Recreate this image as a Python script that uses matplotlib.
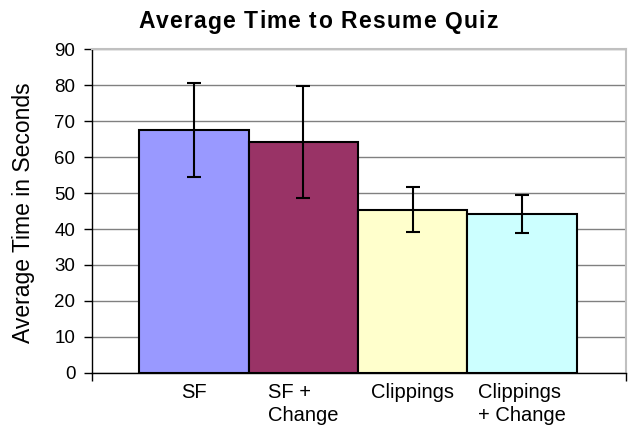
import matplotlib
matplotlib.use("Agg")
import matplotlib.pyplot as plt
from matplotlib.ticker import FixedLocator

categories = ["SF", "SF +\nChange", "Clippings", "Clippings\n+ Change"]
means = [67.6, 64.3, 45.4, 44.3]
errors = [13.0, 15.6, 6.2, 5.3]
colors = ["#9999FF", "#993366", "#FFFFCC", "#CCFFFF"]
yticks = list(range(0, 91, 10))
title = "Average Time to Resume Quiz"

plt.rcParams['font.family'] = ['Liberation Sans', 'DejaVu Sans']

fig = plt.figure(figsize=(6.28, 4.28), dpi=100)
ax = fig.add_axes([92/628, 1 - 372.8/428, (626-92)/628, (372.8-49.3)/428])

x = list(range(len(categories)))
ax.bar(x, means, width=1.0, color=colors, edgecolor="black", linewidth=1.5, zorder=3)
ax.errorbar(x, means, yerr=errors, fmt="none", ecolor="black", elinewidth=1.5,
            capsize=5, capthick=1.5, zorder=4)

xl, xr = -0.931, 3.95
ax.set_xlim(xl, xr)
ax.set_ylim(0, 90)
ax.set_yticks(yticks)
ax.yaxis.grid(True, color="#808080", linewidth=1, zorder=0)
ax.set_axisbelow(True)

ax.set_xticks(x)
ax.set_xticklabels(categories, fontsize=14.5, multialignment="left", linespacing=1.3)
ax.tick_params(axis="x", which="major", length=0, pad=7)
ax.xaxis.set_minor_locator(FixedLocator([xl, xr]))
ax.tick_params(axis="x", which="minor", length=6, width=1, direction="out")
ax.tick_params(axis="y", labelsize=13.5, length=6, width=1, direction="out", pad=6)

for s in ["top", "right"]:
    ax.spines[s].set_color("#c0c0c0")
    ax.spines[s].set_linewidth(1.5)
for s in ["left", "bottom"]:
    ax.spines[s].set_color("black")
    ax.spines[s].set_linewidth(1)

fig.text(24/628, 1 - 213/428, "Average Time in Seconds", rotation=90, ha="center",
         va="center", fontsize=16.5)

# title with slight letter spacing
renderer = fig.canvas.get_renderer()
tfs = 16.5
spacing = 1.2  # px
probe = fig.text(0, 0, title, fontsize=tfs, fontweight="bold")
full_w = probe.get_window_extent(renderer).width
probe.remove()
total_w = full_w + spacing * (len(title) - 1)
x0 = 318 - total_w / 2
ypix = 428 - 22
for i, ch in enumerate(title):
    if i == 0:
        off = 0.0
    else:
        p = fig.text(0, 0, title[:i] + "|", fontsize=tfs, fontweight="bold")
        q = fig.text(0, 0, "|", fontsize=tfs, fontweight="bold")
        off = p.get_window_extent(renderer).width - q.get_window_extent(renderer).width
        p.remove(); q.remove()
    fig.text((x0 + off + spacing * i) / 628, ypix / 428, ch, fontsize=tfs,
             fontweight="bold", ha="left", va="center")

fig.savefig("out.png", dpi=100)
